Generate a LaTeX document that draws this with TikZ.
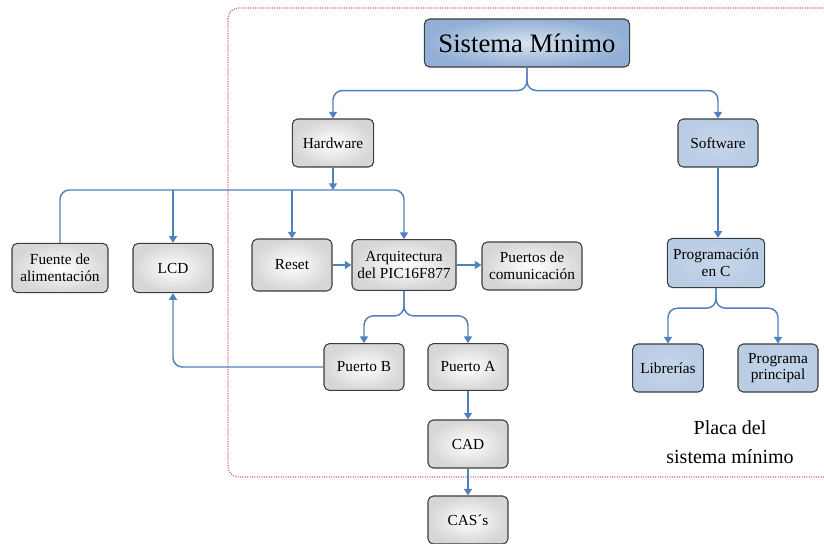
\documentclass[tikz,border=0pt]{standalone}
\usepackage{fontspec}
\setmainfont{Liberation Serif}
\usetikzlibrary{arrows.meta}
\definecolor{linkblue}{RGB}{79, 129, 189}
\definecolor{steelblue}{RGB}{184, 204, 228}
\definecolor{deepsteel}{RGB}{146, 176, 214}
\definecolor{framered}{RGB}{222, 90, 90}
\definecolor{boxedge}{RGB}{60, 60, 60}

\tikzset{
  box/.style={rounded corners=4pt, draw=boxedge, line width=0.8pt, align=center,
              minimum width=60pt, minimum height=36pt, inner sep=2pt},
  greybox/.style={box, inner color=white, outer color=black!16},
  bluebox/.style={box, inner color=steelblue!80!white, outer color=steelblue},
  link/.style={draw=linkblue, line width=1.1pt},
  linkarrow/.style={link, -{Triangle[width=6pt,length=5pt]}}
}

\begin{document}
\begin{tikzpicture}[x=0.75pt, y=-0.75pt, font=\fontsize{11.5}{12.5}\selectfont]
        \useasboundingbox (0,0) rectangle (824,543);
        \draw[framered, densely dotted, line width=0.8pt, rounded corners=8pt] (228,8) rectangle (845,477);

        \node[box, inner color=steelblue!55!white, outer color=deepsteel, minimum width=154pt,
              font=\fontsize{20}{24}\selectfont]                 (sis)   at (527, 43) {Sistema Mínimo};
        \node[greybox, minimum width=61pt]                        (hw)    at (333,143) {Hardware};
        \node[bluebox]                                            (sw)    at (718,143) {Software};
        \node[greybox, minimum width=72pt, minimum height=37pt]  (fte)   at ( 60,268) {Fuente de\\alimentación};
        \node[greybox, minimum height=37pt]                       (lcd)   at (173,268) {LCD};
        \node[greybox, minimum height=39pt]                       (rst)   at (292,265) {Reset};
        \node[greybox, minimum width=78pt, minimum height=38pt]  (arq)   at (404,265) {Arquitectura\\del PIC16F877};
        \node[greybox, minimum width=75pt]                        (pto)   at (532,266) {Puertos de\\comunicación};
        \node[greybox, minimum height=35pt]                       (ptb)   at (364,367) {Puerto B};
        \node[greybox, minimum height=35pt]                       (pta)   at (468,367) {Puerto A};
        \node[greybox]                                            (cad)   at (468,444) {CAD};
        \node[greybox]                                            (cas)   at (468,520) {CAS´s};
        \node[bluebox, minimum width=73pt, minimum height=37pt]  (prg)   at (716,263) {Programación\\en C};
        \node[bluebox, minimum width=53pt]                        (lib)   at (668,368) {Librerías};
        \node[bluebox]                                            (ppl)   at (778,368) {Programa\\principal};
        \node[align=center, font=\fontsize{15}{21.5}\selectfont] (placa) at (730,442) {Placa del\\sistema mínimo};

        \coordinate (hwbar) at (333,190);

        \draw[linkarrow, rounded corners=7pt] (sis.south) -- ++(0,23) -| (hw.north);
        \draw[linkarrow, rounded corners=7pt] (sis.south) -- ++(0,23) -| (sw.north);
        \draw[linkarrow]                      (hw.south)  -- (hwbar);
        \draw[linkarrow, rounded corners=7pt] (fte.north) |- (hwbar) -| (arq.north);
        \draw[linkarrow]                      (lcd.north |- hwbar) -- (lcd.north);
        \draw[linkarrow]                      (rst.north |- hwbar) -- (rst.north);
        \draw[linkarrow]                      (rst.east)  -- (rst.east -| arq.west);
        \draw[linkarrow]                      (arq.east)  -- (arq.east -| pto.west);
        \draw[linkarrow, rounded corners=7pt] (arq.south) -- ++(0,25) -| (ptb.north);
        \draw[linkarrow, rounded corners=7pt] (arq.south) -- ++(0,25) -| (pta.north);
        \draw[linkarrow, rounded corners=7pt] (ptb.west)  -| (lcd.south);
        \draw[linkarrow]                      (pta)       -- (cad);
        \draw[linkarrow]                      (cad)       -- (cas);
        \draw[linkarrow]                      (sw.south)  -- (sw.south |- prg.north);
        \draw[linkarrow, rounded corners=7pt] (prg.south) -- ++(0,20) -| (lib.north);
        \draw[linkarrow, rounded corners=7pt] (prg.south) -- ++(0,20) -| (ppl.north);
\end{tikzpicture}
\end{document}
